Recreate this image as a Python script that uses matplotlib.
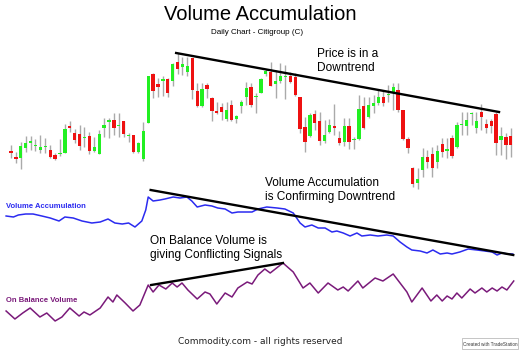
import matplotlib.pyplot as plt
from matplotlib.patches import Rectangle
import numpy as np

# daily candles (arbitrary price units)
opens = [49, 43, 42, 52, 57, 54, 50, 53, 50, 45, 46, 47, 74, 67, 66, 62, 64, 49, 46, 72,
         78, 80, 74, 79, 64, 65, 48, 41, 77, 126, 116, 119, 121, 119, 138, 133, 128, 142, 109, 94,
         115, 102, 89, 93, 81, 95, 81, 94, 103, 113, 103, 107, 126, 128, 116, 119, 123, 124, 123, 103,
         73, 64, 86, 79, 59, 68, 74, 62, 58, 74, 60, 61, 94, 83, 94, 97, 103, 105, 107, 110,
         90, 61, 32, 17, 30, 43, 46, 38, 56, 49, 62, 53, 75, 74, 86, 72, 88, 76, 79, 86,
         60, 63, 64]
highs = [55, 48, 58, 64, 64, 61, 65, 62, 55, 47, 61, 76, 79, 71, 75, 73, 68, 63, 70, 82,
         82, 87, 87, 79, 67, 65, 58, 78, 124, 127, 122, 124, 122, 137, 147, 143, 143, 142, 117, 117,
         117, 103, 98, 97, 98, 100, 85, 100, 118, 117, 107, 122, 131, 138, 130, 137, 135, 128, 127, 103,
         83, 87, 90, 88, 80, 81, 96, 69, 82, 82, 63, 105, 103, 103, 105, 110, 110, 115, 117, 117,
         90, 63, 33, 32, 52, 50, 53, 55, 62, 62, 65, 78, 88, 88, 88, 88, 96, 81, 81, 88,
         73, 67, 72]
lows = [42, 37, 31, 48, 50, 49, 47, 47, 42, 40, 44, 47, 68, 57, 50, 53, 46, 48, 46, 63,
        62, 65, 63, 63, 58, 47, 47, 39, 77, 102, 103, 104, 103, 114, 126, 125, 124, 101, 93, 93,
        102, 79, 86, 80, 79, 79, 77, 87, 95, 93, 87, 107, 124, 114, 102, 117, 101, 117, 104, 67,
        48, 63, 70, 55, 57, 67, 65, 55, 54, 51, 51, 60, 71, 82, 87, 95, 94, 98, 90, 88,
        60, 47, 13, 11, 23, 32, 23, 32, 43, 42, 42, 52, 65, 65, 75, 67, 70, 67, 67, 45,
        45, 41, 43]
closes = [47, 41, 54, 57, 59, 54, 53, 53, 43, 41, 46, 71, 72, 60, 54, 62, 49, 53, 66, 75,
          80, 72, 74, 66, 64, 48, 57, 69, 124, 109, 113, 121, 107, 136, 131, 136, 134, 110, 94, 111,
          111, 89, 87, 88, 90, 80, 84, 98, 112, 95, 103, 121, 129, 114, 119, 124, 124, 118, 105, 71,
          58, 85, 77, 59, 65, 75, 72, 57, 74, 58, 60, 91, 72, 95, 97, 103, 97, 105, 113, 90,
          61, 52, 16, 21, 43, 38, 32, 49, 48, 51, 44, 75, 75, 80, 86, 79, 83, 72, 74, 57,
          64, 55, 55]
days = np.arange(1, len(opens) + 1)

# volume accumulation line
va_days = [0, 1.5, 2.5, 4, 5.5, 7.3, 9, 10.8, 12, 13.7, 15.5, 17.5, 19.2, 20.8, 22.2, 23.7, 25,
           26.3, 27.7, 28.5, 29, 30, 31.4, 32.4, 34.1, 35.5, 36.9, 37.9, 39, 40.6, 42, 43.2, 44.7,
           46.1, 47.3, 48.8, 50.2, 51.4, 53.2, 55.3, 56.9, 58.6, 60, 61, 62.4, 63.7, 65.1, 66.5,
           67.5, 68.8, 70.2, 71.6, 72.6, 74.3, 75.9, 77.7, 79, 80.4, 81.8, 82.8, 84.5, 85.9, 87.1,
           88.6, 90, 91, 92.6, 94.3, 96.1, 97.7, 99.2, 100.2, 101.2, 102.4, 103.4]
va_vals = [44, 43, 45, 46, 46, 44, 42, 39, 43, 42, 39, 37, 38, 41, 37, 36, 37,
           33, 39, 50, 63, 59, 60, 61, 63, 62, 63, 59, 53, 55, 54, 52, 51,
           47, 48, 48, 48, 51, 53, 52, 51, 47, 37, 33, 35, 32, 32, 28,
           29, 27, 24, 27, 24, 25, 24, 25, 24, 18, 13, 10, 9, 7, 10,
           6, 7, 6, 8, 11, 10, 9, 8, 5, 7, 6, 6]

# on balance volume line
obv_days = [0, 1.8, 3.4, 4.9, 6.9, 8.3, 10, 11.4, 13, 14.9, 15.9, 17.1, 19.2, 20.8, 21.8, 22.6,
            24.3, 25.9, 27.3, 29, 30, 31.2, 32.6, 33.9, 34.9, 35.9, 37.1, 39, 40.6, 41.6, 43,
            44.7, 46.1, 47.3, 49.2, 50.2, 51.4, 52.8, 53.9, 56.5, 58.6, 60.6, 62, 63.7, 65.7,
            67.7, 68.8, 69.8, 71.8, 72.8, 75.3, 76.9, 79, 80.4, 81.8, 82.8, 84.9, 86.7, 87.9,
            89, 90, 91, 92, 93, 94.7, 95.7, 97.1, 98.1, 99.2, 100.2, 101.2, 102.2, 103.6]
obv_vals = [19, 11, 17, 22, 13, 17, 9, 13, 22, 14, 18, 15, 22, 33, 28, 35,
            27, 19, 25, 45, 38, 45, 41, 47, 43, 47, 40, 31, 38, 36, 26,
            37, 33, 42, 48, 46, 55, 61, 57, 67, 58, 42, 47, 37, 47,
            40, 43, 39, 49, 42, 52, 49, 56, 47, 38, 28, 42, 29, 35,
            29, 34, 31, 37, 32, 41, 37, 42, 38, 42, 39, 43, 40, 49]

# hand-drawn trend lines (start/end day, level)
price_trend_days = [34.7, 100.6]
price_trend_vals = [147, 88]
va_trend_days = [29.5, 103.5]
va_trend_vals = [70, 5]
obv_trend_days = [29.6, 56.5]
obv_trend_vals = [45, 67]

fig = plt.figure(figsize=(5.2, 3.5), dpi=100)
fig.patch.set_facecolor('white')
xlim = (-1.245, 104.88)

def panel(ylim):
    ax = fig.add_axes([0, 0, 1, 1])
    ax.set_xlim(*xlim)
    ax.set_ylim(*ylim)
    ax.axis('off')
    ax.patch.set_alpha(0)
    return ax

# price
ax = panel((-150, 200))
o = np.array(opens); c = np.array(closes)
up = c >= o
cols = np.where(up, '#22f022', '#ee1111')
bot = np.minimum(o, c)
h = np.maximum(np.abs(c - o), 1.3)
ax.vlines(days, lows, highs, color='#aaaaaa', lw=1, zorder=1)
ax.bar(days, h, bottom=bot, width=0.66, color=cols, zorder=2)
ax.plot(price_trend_days, price_trend_vals, color='black', lw=1.7, zorder=3)

# volume accumulation
ax2 = panel((-90, 260))
ax2.plot(va_days, va_vals, color='#2b2bf0', lw=1.1)
ax2.plot(va_trend_days, va_trend_vals, color='black', lw=1.7)

# OBV
ax3 = panel((-20, 330))
ax3.plot(obv_days, obv_vals, color='#7a1a7a', lw=1.1)
ax3.plot(obv_trend_days, obv_trend_vals, color='black', lw=1.7)

def fy(y):
    return 1 - y / 350.0

sans = ['Liberation Sans', 'DejaVu Sans']
fig.text(0.5, fy(15), 'Volume Accumulation', ha='center', va='center', fontsize=14.5, family=sans)
fig.text(0.495, fy(33), 'Daily Chart - Citigroup (C)', ha='center', va='center', fontsize=5.8, family=sans)
fig.text(317 / 520, fy(61), 'Price is in a\nDowntrend', ha='left', va='center', fontsize=8.6,
         family=sans, linespacing=1.15)
fig.text(265 / 520, fy(190), 'Volume Accumulation\nis Confirming Downtrend', ha='left', va='center',
         fontsize=8.6, family=sans, linespacing=1.15)
fig.text(150 / 520, fy(248), 'On Balance Volume is\ngiving Conflicting Signals', ha='left', va='center',
         fontsize=8.6, family=sans, linespacing=1.15)
fig.text(6 / 520, fy(207), 'Volume Accumulation', ha='left', va='center', fontsize=5.5,
         fontweight='bold', color='#2b2bf0', family=sans)
fig.text(6 / 520, fy(301), 'On Balance Volume', ha='left', va='center', fontsize=5.5,
         fontweight='bold', color='#7a1a7a', family=sans)
fig.text(0.5, fy(342), 'Commodity.com - all rights reserved', ha='center', va='center', fontsize=6.5,
         family='DejaVu Sans', color='#222222')

fig.patches.append(Rectangle((462 / 520, fy(349)), 56 / 520, 11 / 350, transform=fig.transFigure,
                             facecolor='white', edgecolor='#bbbbbb', lw=0.6))
fig.text(490 / 520, fy(344), 'Created with TradeStation', ha='center', va='center', fontsize=3.3,
         family=sans, color='#333333')

fig.savefig('out.png', dpi=100)
